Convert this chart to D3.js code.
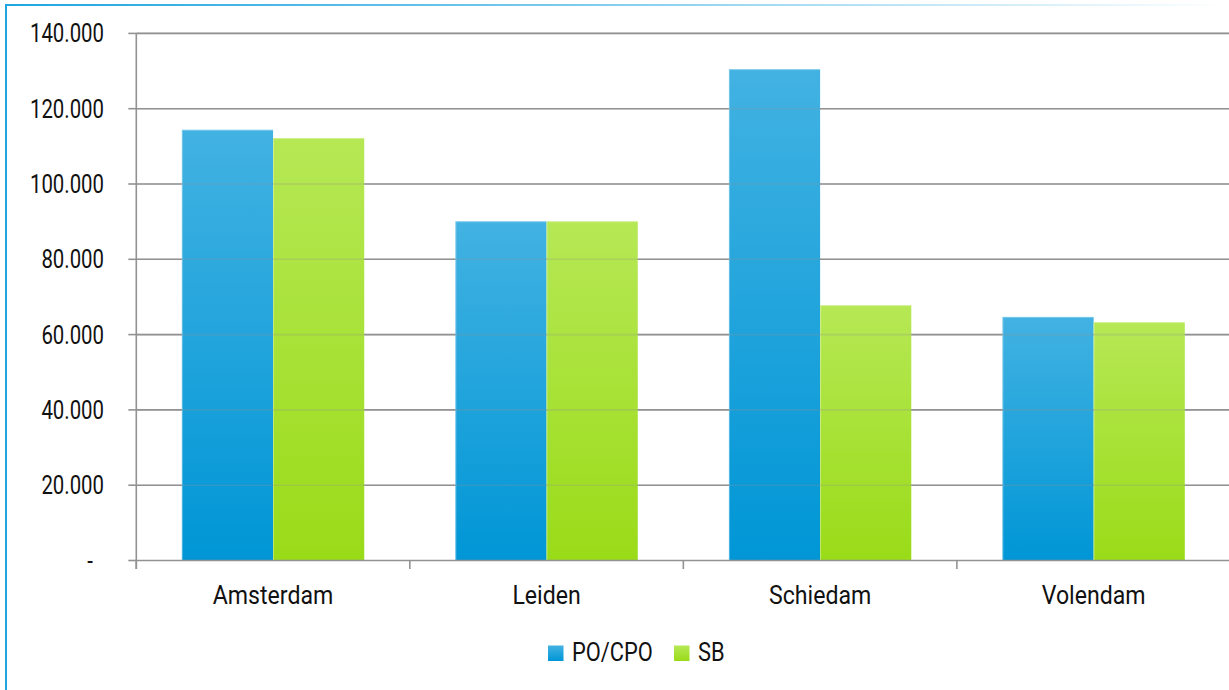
<!DOCTYPE html>
<html>
<head>
<meta charset="utf-8">
<script src="https://cdn.jsdelivr.net/npm/d3@7"></script>
<style>
  html, body { margin: 0; padding: 0; background: #fff; }
  svg { display: block; }
  text { font-family: Roboto, "DejaVu Sans Condensed", sans-serif; fill: #111; }
</style>
</head>
<body>
<svg id="chart" width="1229" height="690"></svg>
<script>
// Cities on the category axis
const categories = ["Amsterdam", "Leiden", "Schiedam", "Volendam"];
// Series names
const seriesNames = ["PO/CPO", "SB"];
// Values per series, in category order
const poCpoValues = [114400, 90100, 130500, 64700];
const sbValues = [112200, 90100, 67800, 63300];
// Value-axis ticks
const yTicks = [0, 20000, 40000, 60000, 80000, 100000, 120000, 140000];

const seriesValues = [poCpoValues, sbValues];

const W = 1229, H = 690;
const svg = d3.select("#chart");
const defs = svg.append("defs");

// Condensed lettering: a regular face squeezed horizontally
const FONT_SIZE = 25;
function condensedText(sel, x, y, anchor, squeeze) {
  return sel.attr("text-anchor", anchor)
    .attr("font-size", FONT_SIZE)
    .attr("transform", (d, i) => `translate(${typeof x === "function" ? x(d, i) : x},${typeof y === "function" ? y(d, i) : y}) scale(${squeeze},1)`);
}

// Frame: solid left rule, top rule fading out to the right
const topFade = defs.append("linearGradient").attr("id", "topFade")
  .attr("x1", "0").attr("x2", "1").attr("y1", "0").attr("y2", "0");
topFade.append("stop").attr("offset", "0").attr("stop-color", "#1fa6e0").attr("stop-opacity", 1);
topFade.append("stop").attr("offset", "0.45").attr("stop-color", "#1fa6e0").attr("stop-opacity", 0.6);
topFade.append("stop").attr("offset", "1").attr("stop-color", "#1fa6e0").attr("stop-opacity", 0);

svg.append("rect").attr("x", 5).attr("y", 4).attr("width", W - 5).attr("height", 2)
  .attr("fill", "url(#topFade)");
svg.append("rect").attr("x", 5).attr("y", 4).attr("width", 2).attr("height", H - 4)
  .attr("fill", "#1fa6e0");

// Bar gradients (light at top, saturated at bottom)
const gradSpecs = [
  { id: "gBlue", top: "#42b2e2", bottom: "#0096d6" },
  { id: "gGreen", top: "#b6e855", bottom: "#9adb18" }
];
gradSpecs.forEach(g => {
  const lg = defs.append("linearGradient").attr("id", g.id)
    .attr("x1", "0").attr("x2", "0").attr("y1", "0").attr("y2", "1");
  lg.append("stop").attr("offset", "0").attr("stop-color", g.top);
  lg.append("stop").attr("offset", "1").attr("stop-color", g.bottom);
});

const plot = { left: 136.3, right: 1230.4, top: 33.4, bottom: 560.5 };

const y = d3.scaleLinear().domain([0, 140000]).range([plot.bottom, plot.top]);
const x0 = d3.scaleBand().domain(categories).range([plot.left, plot.right]).padding(0);
const x1 = d3.scaleBand().domain(seriesNames).range([0, x0.bandwidth()])
  .paddingInner(0).paddingOuter(0.5);

const fmt = v => v === 0 ? "-" : d3.format(",")(v).replace(/,/g, ".");

// Gridlines below the bars
const gridColor = "#929292";
function drawGrid(g, opacity) {
  g.selectAll("line").data(yTicks.filter(t => t > 0)).join("line")
    .attr("x1", plot.left).attr("x2", W)
    .attr("y1", d => y(d)).attr("y2", d => y(d))
    .attr("stroke", gridColor).attr("stroke-width", 1.6)
    .attr("stroke-opacity", opacity);
}
drawGrid(svg.append("g"), 1);

// Bars
const groups = svg.append("g").selectAll("g").data(categories).join("g")
  .attr("transform", c => `translate(${x0(c)},0)`);
const barData = (c, ci) => seriesNames.map((s, si) => ({ s, si, v: seriesValues[si][ci] }));
groups.selectAll("rect").data(barData).join("rect")
  .attr("x", d => x1(d.s))
  .attr("width", x1.bandwidth())
  .attr("y", d => y(d.v))
  .attr("height", d => plot.bottom - y(d.v))
  .attr("fill", d => `url(#${gradSpecs[d.si].id})`);
// Light bevel on the left and top edges of each bar
groups.selectAll("path.edge").data(barData).join("path").attr("class", "edge")
  .attr("d", d => `M${x1(d.s) + 0.5},${plot.bottom}V${y(d.v) + 0.5}H${x1(d.s) + x1.bandwidth()}`)
  .attr("fill", "none").attr("stroke", "#fff").attr("stroke-opacity", 0.3).attr("stroke-width", 1);

// Gridlines showing faintly through the bars
drawGrid(svg.append("g"), 0.25);

// Value axis
const yAxis = svg.append("g");
yAxis.append("line").attr("x1", plot.left).attr("x2", plot.left)
  .attr("y1", plot.top).attr("y2", plot.bottom + 8.5)
  .attr("stroke", gridColor).attr("stroke-width", 1.6);
yAxis.selectAll("line.tick").data(yTicks).join("line").attr("class", "tick")
  .attr("x1", plot.left - 8).attr("x2", plot.left)
  .attr("y1", d => y(d)).attr("y2", d => y(d))
  .attr("stroke", gridColor).attr("stroke-width", 1.6);
condensedText(
  yAxis.selectAll("text").data(yTicks).join("text").attr("dy", "0.36em").text(fmt),
  d => d === 0 ? 93 : 104, d => y(d), "end", 0.815);

// Category axis
const xAxis = svg.append("g");
xAxis.append("line").attr("x1", plot.left).attr("x2", W)
  .attr("y1", plot.bottom).attr("y2", plot.bottom)
  .attr("stroke", gridColor).attr("stroke-width", 1.6);
const boundaries = categories.map(c => x0(c)).concat([plot.right]);
xAxis.selectAll("line.tick").data(boundaries).join("line").attr("class", "tick")
  .attr("x1", d => d).attr("x2", d => d)
  .attr("y1", plot.bottom).attr("y2", plot.bottom + 8.5)
  .attr("stroke", gridColor).attr("stroke-width", 1.6);
condensedText(
  xAxis.selectAll("text").data(categories).join("text").text(c => c),
  c => x0(c) + x0.bandwidth() / 2, 604, "middle", 0.925);

// Legend
const legend = svg.append("g");
const legendX = [548, 674];
seriesNames.forEach((s, i) => {
  legend.append("rect").attr("x", legendX[i]).attr("y", 645.5)
    .attr("width", 15.5).attr("height", 15.5)
    .attr("fill", `url(#${gradSpecs[i].id})`);
  condensedText(legend.append("text").text(s), legendX[i] + 24, 661, "start", 0.875);
});
</script>
</body>
</html>
